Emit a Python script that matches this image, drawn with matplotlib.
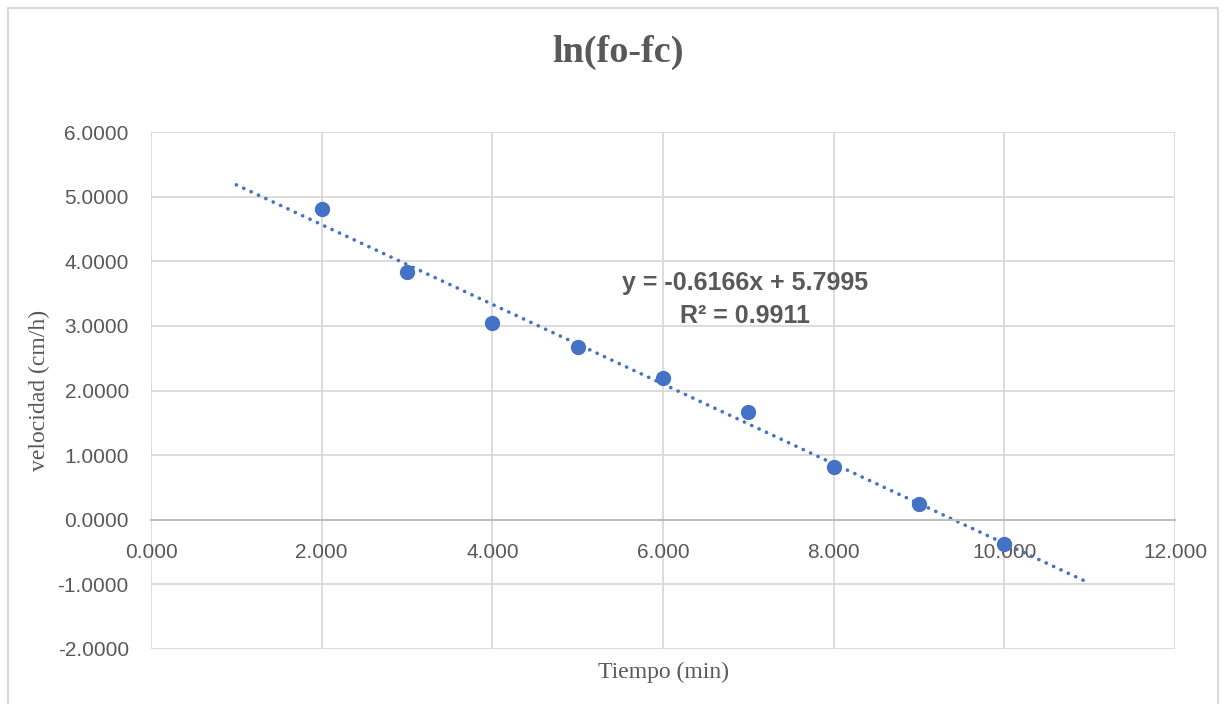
import numpy as np
import matplotlib
matplotlib.use('Agg')
import matplotlib.pyplot as plt
from matplotlib.patches import Rectangle

# datos
tiempo = [2, 3, 4, 5, 6, 7, 8, 9, 10]
ln_fofc = [4.81, 3.83, 3.04, 2.67, 2.19, 1.67, 0.81, 0.24, -0.37]
pendiente = -0.6166
intercepto = 5.7995
r2 = 0.9911
trend_x = [1, 11]

azul = '#4472C4'
gris = '#595959'

fig = plt.figure(figsize=(12.27, 7.04), dpi=100)
ax = fig.add_axes([151/1227, 1-649/704, 1024/1227, 517/704])

ax.plot(tiempo, ln_fofc, 'o', color=azul, markersize=10, zorder=3)
tx = np.array(trend_x)
ax.plot(tx, pendiente*tx + intercepto, color=azul, lw=2.6,
        linestyle=(0, (0.05, 2.2)), dash_capstyle='round', zorder=2)

ax.set_xlim(0, 12)
ax.set_ylim(-2, 6)
ax.set_xticks(np.arange(0, 13, 2))
ax.set_yticks(np.arange(-2, 7, 1))
ax.xaxis.set_major_formatter(matplotlib.ticker.FormatStrFormatter('%.3f'))
ax.yaxis.set_major_formatter(matplotlib.ticker.FormatStrFormatter('%.4f'))
ax.grid(color='#d9d9d9', lw=1.3, zorder=0)
ax.set_axisbelow(True)

for s in ['top', 'right', 'left']:
    ax.spines[s].set_visible(False)
ax.spines['bottom'].set_position(('data', 0))
ax.spines['bottom'].set_color('#bfbfbf')
ax.spines['bottom'].set_linewidth(1.5)
ax.tick_params(length=0, labelsize=15, labelcolor=gris)
ax.tick_params(axis='y', pad=16)
ax.tick_params(axis='x', pad=17)
for lab in ax.get_xticklabels() + ax.get_yticklabels():
    lab.set_family('Liberation Sans')

ax.set_xlabel('Tiempo (min)', family='Liberation Serif', fontsize=17, color=gris)
ax.set_ylabel('velocidad (cm/h)', family='Liberation Serif', fontsize=17, color=gris)
ax.xaxis.set_label_coords(0.5, -0.025)
ax.yaxis.set_label_coords(-0.099, 0.5)

ax.text(6.96, 3.41, 'y = -0.6166x + 5.7995\nR² = 0.9911', ha='center', va='center',
        fontsize=18, fontweight='bold', color=gris, family='Liberation Sans', linespacing=1.45)

fig.text(618/1227, 1-52/704, 'ln(fo-fc)', ha='center', va='center', fontsize=27.5,
         fontweight='bold', color=gris, family='Liberation Serif')

fig.patches.append(Rectangle((8/1227, -0.01), 1210/1227, 1-8/704+0.01, transform=fig.transFigure,
                             fill=False, edgecolor='#d9d9d9', lw=1.5))

plt.savefig('out.png', dpi=100)
